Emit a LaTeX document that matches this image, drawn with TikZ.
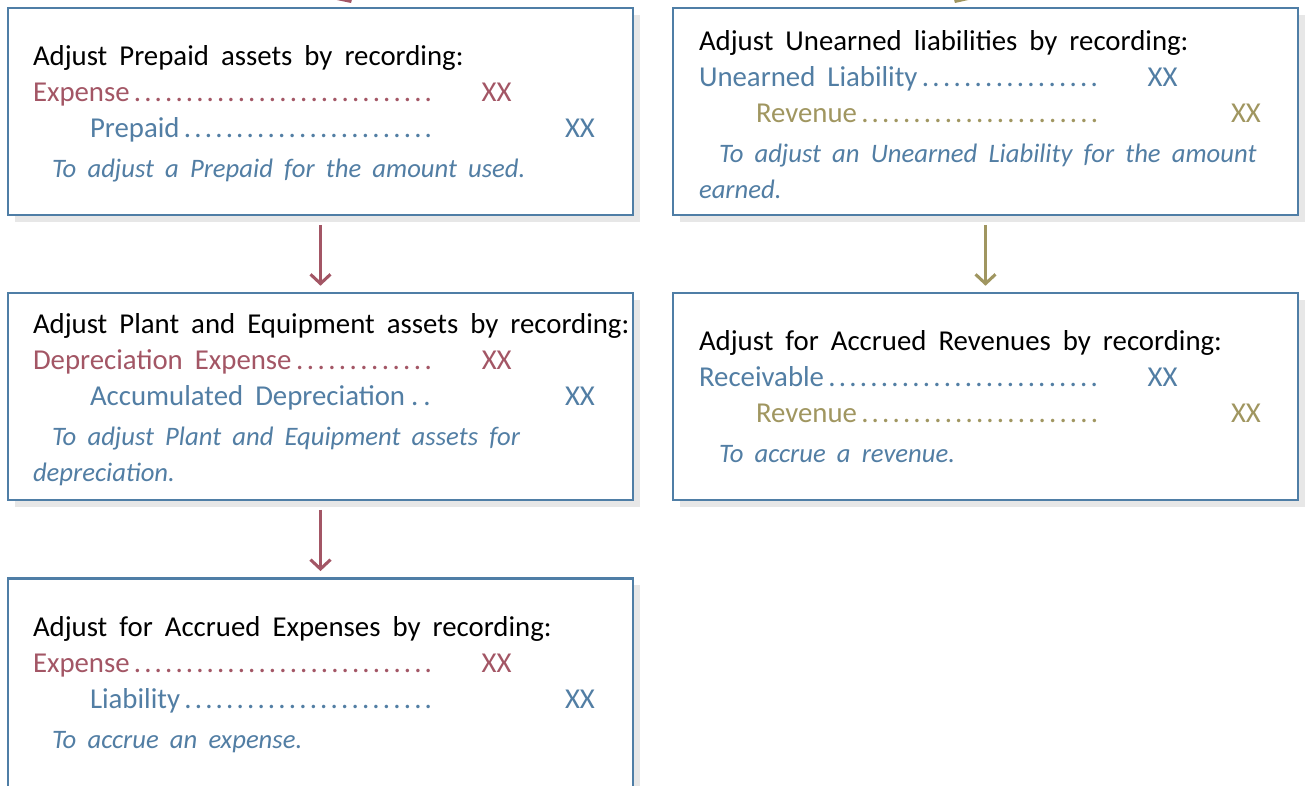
\documentclass[tikz,border=0pt]{standalone}
\usepackage{fontspec}
\setmainfont{Carlito}[WordSpace={1.85,0,0}]
\usetikzlibrary{arrows.meta,positioning,shadows}

\definecolor{boxblue}{RGB}{79,126,166}
\definecolor{dtred}{RGB}{163,86,101}
\definecolor{crblue}{RGB}{82,126,164}
\definecolor{revolive}{RGB}{160,150,96}
\definecolor{shadowgray}{RGB}{231,231,231}

% journal lines: account name, dot leader, amount column
\newcommand{\leaderdots}{\hspace{2pt}\xleaders\hbox to 7.75pt{\hss.\hss}\hfill}
\newcommand{\debitline}[2]{{\color{#1}\makebox[300.75pt][l]{#2\leaderdots}\hspace{36pt}XX}}
\newcommand{\creditline}[2]{{\color{#1}\hspace*{42.75pt}\makebox[258pt][l]{#2\leaderdots}\hspace{98.25pt}XX}}
\newcommand{\memo}[1]{{\color{crblue}\fontsize{20}{27}\selectfont\itshape #1}}

\begin{document}
\begin{tikzpicture}[
  x=0.75pt, y=-0.75pt,
  acctbox/.style={
    draw=boxblue,
    line width=1.9pt,
    fill=white,
    minimum width=468.75pt,
    minimum height=155.25pt,
    inner sep=0pt,
    drop shadow={shadow xshift=5pt, shadow yshift=-5pt, fill=shadowgray, opacity=1}
  },
  entrytext/.style={align=left, inner sep=0pt, font=\fontsize{21.6}{27}\selectfont},
  flow/.style={-{Straight Barb[length=7pt,width=15pt]}, line width=2.3pt}
]
\useasboundingbox (0,0) rectangle (1305,785);
\clip (0,0) rectangle (1305,785);

% boxes
\node[acctbox] (prepaid) at (320.5,111.5) {};
\node[acctbox] (unearned) at (985.5,111.5) {};
\node[acctbox] (plant) at (320.5,396.5) {};
\node[acctbox] (accrev) at (985.5,396.5) {};
\node[acctbox, minimum height=160pt] (accexp) at (320.5,685) {};

% entries
\node[entrytext, right=19.5pt of prepaid.west, yshift=-1.5pt] (prepaidtxt) {Adjust Prepaid assets by recording:\\
  \debitline{dtred}{Expense}\\
  \creditline{crblue}{Prepaid}\\[3pt]
  \memo{\hspace*{14.25pt}To adjust a Prepaid for the amount used.}};

\node[entrytext, right=19.5pt of plant.west, yshift=-2.5pt] (planttxt) {Adjust Plant and Equipment assets by recording:\\
  \debitline{dtred}{Depreciation Expense}\\
  \creditline{crblue}{Accumulated Depreciation}\\[3pt]
  \memo{\hspace*{14.25pt}To adjust Plant and Equipment assets for}\\
  \memo{depreciation.}};

\node[entrytext, right=19.5pt of accexp.west] (accexptxt) {Adjust for Accrued Expenses by recording:\\
  \debitline{dtred}{Expense}\\
  \creditline{crblue}{Liability}\\[3pt]
  \memo{\hspace*{14.25pt}To accrue an expense.}};

\node[entrytext, right=20.25pt of unearned.west, yshift=-2pt] (unearnedtxt) {Adjust Unearned liabilities by recording:\\
  \debitline{crblue}{Unearned Liability}\\
  \creditline{revolive}{Revenue}\\[3pt]
  \memo{\hspace*{15pt}To adjust an Unearned Liability for the amount}\\
  \memo{earned.}};

\node[entrytext, right=20.25pt of accrev.west] (accrevtxt) {Adjust for Accrued Revenues by recording:\\
  \debitline{crblue}{Receivable}\\
  \creditline{revolive}{Revenue}\\[3pt]
  \memo{\hspace*{15pt}To accrue a revenue.}};

% arrows
\draw[flow, dtred, shorten <=6.5pt, shorten >=4.5pt] (prepaid.south) -- (plant.north);
\draw[flow, dtred, shorten <=6.5pt, shorten >=4.5pt] (plant.south) -- (accexp.north);
\draw[flow, revolive, shorten <=6.5pt, shorten >=4.5pt] (unearned.south) -- (accrev.north);

% incoming arrows, cut by the page edge
\coordinate (inleft) at (322,-45);
\coordinate (tipleft) at (351,3);
\coordinate (inright) at (983,-45);
\coordinate (tipright) at (955,3);
\draw[flow, dtred] (inleft) -- (tipleft);
\draw[flow, revolive] (inright) -- (tipright);
\end{tikzpicture}
\end{document}
